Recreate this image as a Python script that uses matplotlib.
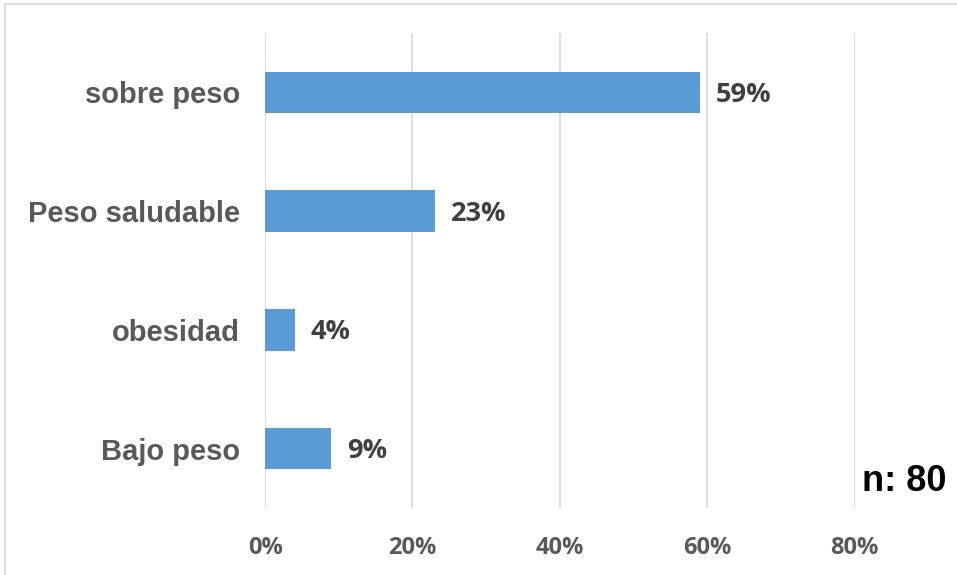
import matplotlib.pyplot as plt
from matplotlib.patches import Rectangle

# Data
categorias = ['Bajo peso', 'obesidad', 'Peso saludable', 'sobre peso']
porcentajes = [0.09, 0.04, 0.23, 0.59]
etiquetas = ['9%', '4%', '23%', '59%']
ticks = [0.0, 0.2, 0.4, 0.6, 0.8]
tick_labels = ['0%', '20%', '40%', '60%', '80%']

gris = '#595959'
azul = '#5b9bd5'
f_num = ['Open Sans', 'DejaVu Sans']
f_txt = ['Liberation Sans', 'DejaVu Sans']

fig = plt.figure(figsize=(9.57, 5.75), dpi=100)
ax = fig.add_axes([0.277, 0.1165, 0.616, 0.826])

# outer frame of the chart area
fig.patches.append(Rectangle((0.005, -0.01), 1.1, 1.0030, transform=fig.transFigure,
                             fill=False, edgecolor='#d9d9d9', linewidth=1.2))

y = range(len(categorias))
ax.barh(y, porcentajes, height=0.35, color=azul, zorder=3)

for yi, v, t in zip(y, porcentajes, etiquetas):
    ax.text(v + 0.022, yi - 0.02, t, va='center', ha='left', fontsize=19.5,
            fontweight='bold', color='#404040', family=f_num)

ax.set_xlim(0, 0.8)
ax.set_ylim(-0.5, 3.5)
ax.set_xticks(ticks)
ax.set_xticklabels(tick_labels, fontsize=17, fontweight='bold', color=gris,
                   family=f_num)
ax.set_yticks(list(y))
ax.set_yticklabels(categorias, fontsize=21, fontweight='bold', color=gris,
                   family=f_txt)
ax.tick_params(axis='x', length=0, pad=20)
ax.tick_params(axis='y', length=0, pad=18)
ax.grid(axis='x', color='#d9d9d9', linewidth=1.2, zorder=0)
for s in ax.spines.values():
    s.set_visible(False)

fig.text(0.901, 0.163, 'n: 80', fontsize=26, fontweight='bold', color='black',
         family=f_txt, ha='left', va='center')

fig.savefig('out.png', dpi=100)
